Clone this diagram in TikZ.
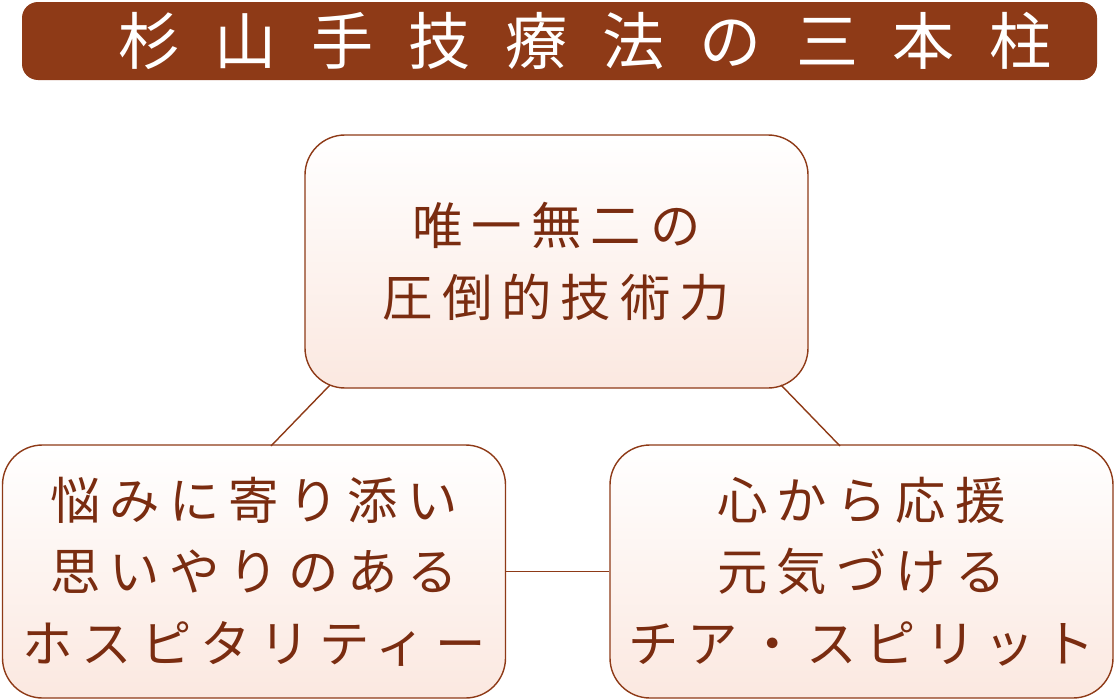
\documentclass[tikz,border=0pt]{standalone}
\usepackage{fontspec}
\setmainfont{Noto Sans CJK JP}
\newfontfamily\jpb[LetterSpace=18]{Noto Sans CJK JP}
\newfontfamily\jpt[LetterSpace=56]{Noto Sans CJK JP}
\definecolor{brn}{HTML}{8E3A17}
\definecolor{txt}{HTML}{7A2C10}
\definecolor{pk}{HTML}{FBE8E0}
\tikzset{
 box/.style={draw=brn,line width=1.2pt,rounded corners=40*0.03cm,top color=white,bottom color=pk,minimum width=503*0.03cm,minimum height=253*0.03cm,align=center,text=txt,font=\jpb\fontsize{43}{61}\selectfont},
 conn/.style={draw=brn,line width=1.2pt}
}
\begin{document}
\begin{tikzpicture}[x=0.03cm,y=-0.03cm]
\useasboundingbox (0,0) rectangle (1116,700);
\node[fill=brn,rounded corners=16*0.03cm,minimum width=1075*0.03cm,minimum height=78*0.03cm] (title) at (559.5,41) {};
\node[text=white,font=\jpt\fontsize{53}{60}\selectfont] (tt) at (585,41) {杉山手技療法の三本柱};
\node[box] (top) at (556.5,261.5) {唯一無二の\\圧倒的技術力};
\node[box] (bl) at (254,571.5) {悩みに寄り添い\\思いやりのある\\ホスピタリティー};
\node[box] (br) at (861.5,571.5) {心から応援\\元気づける\\チア・スピリット};
\coordinate (a1) at (330,385); \coordinate (a2) at (271,446);
\coordinate (b1) at (781,385); \coordinate (b2) at (840,446);
\draw[conn] (a1) -- (a2);
\draw[conn] (b1) -- (b2);
\draw[conn] (bl.east) -- (br.west);
\end{tikzpicture}
\end{document}
